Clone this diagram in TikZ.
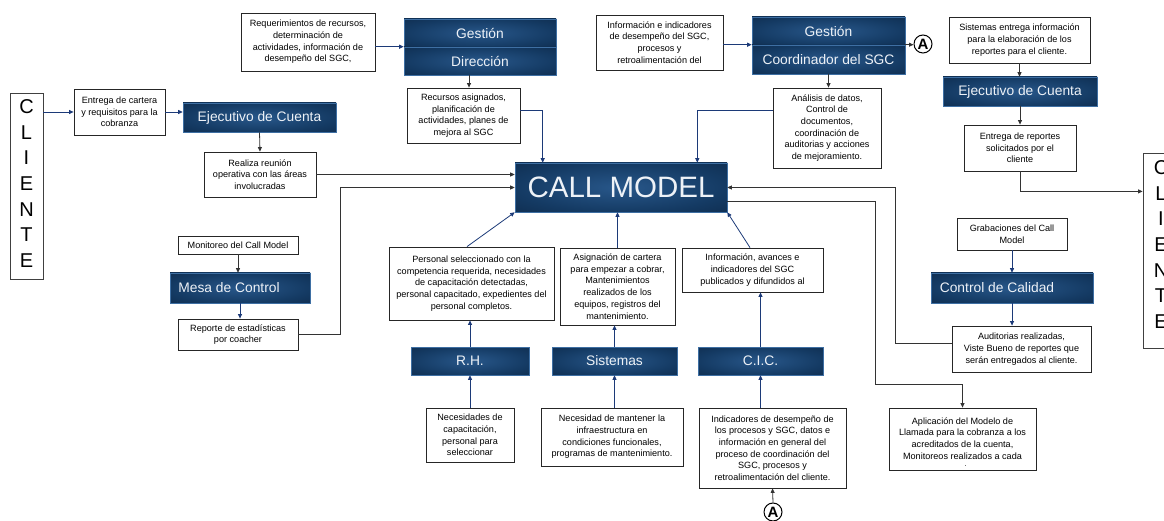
\documentclass[tikz,border=0pt]{standalone}
\usepackage{fontspec}
\setmainfont{Liberation Sans}
\usetikzlibrary{arrows.meta,calc}

\definecolor{navyin}{HTML}{28578A}
\definecolor{navymid}{HTML}{143A63}
\definecolor{navyout}{HTML}{0A213D}
\definecolor{navyedge}{HTML}{3E6FA3}
\definecolor{navytext}{HTML}{EEF2F7}
\definecolor{linkblue}{HTML}{1C3A78}

% soft glow used inside the dark process boxes
\pgfdeclareradialshading{navyglow}{\pgfpoint{0bp}{0bp}}{color(0bp)=(navyin); color(25bp)=(navymid); color(50bp)=(navyout); color(100bp)=(navyout)}

% \mkbox{name}{style}{x1}{y1}{x2}{y2}{text}: box given by its corners (y grows downwards)
\newcommand\mkbox[7]{%
  \node[#2, minimum width={(#5)-(#3)}, minimum height={(#6)-(#4)}] (#1)
    at ({((#3)+(#5))/2},{((#4)+(#6))/2}) {#7};}

\tikzset{
  wbox/.style={draw=black!85, line width=0.8pt, fill=white, align=center, inner sep=0pt,
               font=\fontsize{9.1}{11.7}\selectfont},
  wtext/.style={align=center, inner sep=0pt, font=\fontsize{9.1}{11.9}\selectfont},
  dbox/.style={draw=navyedge, line width=0.6pt, shading=navyglow, text=navytext, inner sep=0pt,
               font=\fontsize{13.8}{16}\selectfont},
  clbox/.style={draw=black!75, line width=0.8pt, fill=white, inner sep=0pt},
  cltext/.style={align=center, inner sep=0pt, font=\fontsize{20}{25.6}\selectfont},
  circA/.style={circle, draw=black, line width=1pt, minimum size=18pt, inner sep=0pt,
                font=\bfseries\fontsize{15}{15}\selectfont},
  bluearrow/.style={draw=linkblue, line width=0.8pt, -{Triangle[length=4.5pt,width=4pt]}},
  darkarrow/.style={draw=black!80, line width=0.8pt, -{Triangle[length=4.5pt,width=4pt]}},
}

\begin{document}
\begin{tikzpicture}[x=1pt,y=-1pt]
\useasboundingbox (0,0) rectangle (1164,521);

% --- clients on both sides
\mkbox{cliL}{clbox}{10}{93}{43}{279}{}
\node[cltext] (cliLtxt) at ($(cliL)+(0,-2.5)$) {C\\L\\I\\E\\N\\T\\E};
\mkbox{cliR}{clbox}{1143}{153}{1180}{348}{}
\node[cltext] (cliRtxt) at (1161,244.5) {C\\L\\I\\E\\N\\T\\E};

% --- upper left branch
\mkbox{cart}{wbox}{74}{89}{165}{135}{Entrega de cartera\\y requisitos para la\\cobranza}
\mkbox{ejL}{dbox}{183}{103}{336}{132}{Ejecutivo de Cuenta}
\mkbox{reun}{wbox}{204}{152}{316}{197}{Realiza reunión\\operativa con las áreas\\involucradas}

% --- management
\mkbox{req}{wbox}{241}{13}{375}{71}{Requerimientos de recursos,\\determinación de\\actividades, información de\\desempeño del SGC,}
\mkbox{ges}{dbox}{404}{19}{556}{47}{Gestión}
\mkbox{dir}{dbox}{404}{47}{556}{75}{Dirección}
\mkbox{rec}{wbox}{407}{88}{520}{143}{Recursos asignados,\\planificación de\\actividades, planes de\\mejora al SGC}

% --- SGC coordination
\mkbox{infind}{wbox}{596}{15}{723}{70}{Información e indicadores\\de desempeño del SGC,\\procesos y\\retroalimentación del}
\mkbox{gesc}{dbox}{752}{17}{905}{45}{Gestión}
\mkbox{coord}{dbox}{752}{45}{905}{74}{Coordinador del SGC}
\node[circA] (aTop) at (923,44) {A};
\mkbox{anal}{wbox}{773}{88}{881}{168}{Análisis de datos,\\Control de\\documentos,\\coordinación de\\auditorias y acciones\\de mejoramiento.}

% --- reports to the client
\mkbox{sisent}{wbox}{949}{17}{1090}{63}{Sistemas entrega información\\para la elaboración de los\\reportes para el cliente.}
\mkbox{ejR}{dbox}{943}{77}{1097}{106}{Ejecutivo de Cuenta}
\mkbox{entrep}{wbox}{964}{125}{1076}{171}{Entrega de reportes\\solicitados por el\\cliente}

% --- core
\mkbox{cm}{dbox, font=\fontsize{29.5}{32}\selectfont}{515}{163}{727}{212}{CALL MODEL}

% --- control desk
\mkbox{mon}{wbox}{178}{236}{298}{254}{Monitoreo del Call Model}
\mkbox{mesa}{dbox}{170}{273}{310}{303}{\hspace*{-22pt}Mesa de Control}
\mkbox{estad}{wbox}{178}{319}{298}{350}{Reporte de estadísticas\\por coacher}

% --- support areas
\mkbox{rht}{wbox}{389}{247}{554}{320}{Personal seleccionado con la\\competencia requerida, necesidades\\de capacitación detectadas,\\personal capacitado, expedientes del\\personal completos.}
\mkbox{sist}{wbox}{560}{248}{675}{325}{Asignación de cartera\\para empezar a cobrar,\\Mantenimientos\\realizados de los\\equipos, registros del\\mantenimiento.}
\mkbox{info}{wbox}{682}{248}{823}{292}{Información, avances e\\indicadores del SGC\\publicados y difundidos al}
\mkbox{rhd}{dbox}{411}{347}{529}{375}{R.H.}
\mkbox{sisd}{dbox}{552}{347}{677}{375}{Sistemas}
\mkbox{cicd}{dbox}{698}{347}{823}{375}{C.I.C.}
\mkbox{rhn}{wbox}{426}{408}{514}{462}{Necesidades de\\capacitación,\\personal para\\seleccionar}
\mkbox{sisn}{wbox}{541}{408}{683}{466}{Necesidad de mantener la\\infraestructura en\\condiciones funcionales,\\programas de mantenimiento.}
\mkbox{ind}{wbox}{699}{408}{846}{488}{Indicadores de desempeño de\\los procesos y SGC, datos e\\información en general del\\proceso de coordinación del\\SGC, procesos y\\retroalimentación del cliente.}
\node[circA] (aBot) at (773,512) {A};

% --- quality control
\mkbox{grab}{wbox}{957}{218}{1067}{250}{Grabaciones del Call\\Model}
\mkbox{cdc}{dbox}{931}{273}{1093}{303}{\hspace*{-30pt}Control de Calidad}
\mkbox{aud}{wbox}{952}{326}{1091}{372}{Auditorias realizadas,\\Viste Bueno de reportes que\\serán entregados al cliente.}

% --- call model application (text runs past the box and is cut)
\mkbox{apl}{wbox}{889}{408}{1036}{470}{}
\begin{scope}
  \clip (apl.north west) rectangle ([yshift=4.5pt]apl.south east);
  \node[wtext, anchor=north] (apltxt) at ($(apl.north)+(0,9.5)$) {Aplicación del Modelo de\\Llamada para la cobranza a los\\acreditados de la cuenta,\\Monitoreos realizados a cada\\gestor};
\end{scope}

% --- connectors
\draw[bluearrow] (cart.west -| cliL.east) -- (cart.west);
\draw[bluearrow] (cart.east) -- (cart.east -| ejL.west);
\draw[darkarrow] (ejL.south) -- (reun.north);
\draw[darkarrow] (reun.east) -- (reun.east -| cm.west);

\draw[bluearrow] (req.east |- dir.north) -- (dir.north west);
\draw[darkarrow] ([xshift=-11pt]dir.south) -- ([xshift=-11pt]dir.south |- rec.north);
\draw[bluearrow] ([yshift=5.5pt]rec.east) -| ([xshift=28pt]cm.north west);

\draw[bluearrow] (infind.east |- coord.north) -- (coord.north west);
\draw[darkarrow] (coord.north east) -- (coord.north east -| aTop.west);
\draw[darkarrow] (coord.south) -- (coord.south |- anal.north);
\draw[bluearrow] ([yshift=18pt]anal.west) -| ([xshift=-30pt]cm.north east);

\draw[darkarrow] (sisent.south) -- (sisent.south |- ejR.north);
\draw[darkarrow] (ejR.south) -- (ejR.south |- entrep.north);
\coordinate (repbend) at ($(entrep.south)+(0,20)$);
\draw[darkarrow] (entrep.south) -- (repbend) -- (repbend -| cliR.west);

\draw[darkarrow] (mon.south) -- (mon.south |- mesa.north);
\draw[bluearrow] (mesa.south) -- (mesa.south |- estad.north);
\coordinate (estbend) at ($(estad.east)+(42,0)$);
\draw[darkarrow] (estad.east) -- (estbend) |- (cm.west);

\draw[bluearrow] ([xshift=-4.5pt]rht.north) -- (cm.south west);
\draw[bluearrow] (sist.north) -- (sist.north |- cm.south);
\draw[bluearrow] ([xshift=-2.5pt]info.north) -- (cm.south east);

\draw[bluearrow] (rhd.north) -- (rhd.north |- rht.south);
\draw[bluearrow] (sisd.north) -- (sisd.north |- sist.south);
\draw[bluearrow] (cicd.north) -- (cicd.north |- info.south);
\draw[bluearrow] (rhd.south |- rhn.north) -- (rhd.south);
\draw[bluearrow] (sisd.south |- sisn.north) -- (sisd.south);
\draw[bluearrow] (cicd.south |- ind.north) -- (cicd.south);
\draw[darkarrow] (aBot.north) -- (ind.south);

\draw[bluearrow] (grab.south) -- (grab.south |- cdc.north);
\draw[bluearrow] (cdc.south) -- (cdc.south |- aud.north);
\coordinate (audbend) at ($(aud.west)+(-56,-6)$);
\draw[darkarrow] ([yshift=6pt]aud.west) -- (audbend) |- (cm.east);
\coordinate (aplbend) at ($(apl.north)+(-87.5,-23)$);
\draw[darkarrow] ([yshift=-13.5pt]cm.east) -| (aplbend) -| (apl.north);
\end{tikzpicture}
\end{document}
